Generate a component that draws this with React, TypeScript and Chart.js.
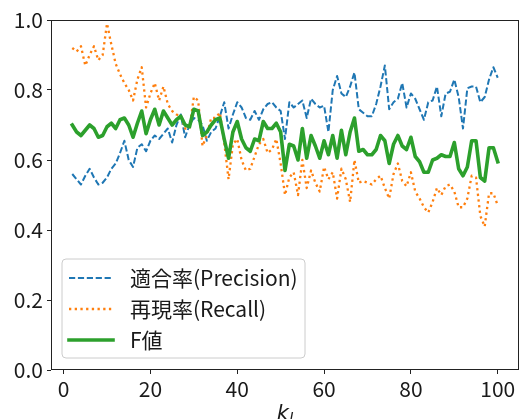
import React, { useEffect, useRef } from "react";
import { Chart, registerables } from "chart.js";

Chart.register(...registerables);

const K = [
  2, 3, 4, 5, 6, 7, 8, 9, 10, 11,
  12, 13, 14, 15, 16, 17, 18, 19, 20, 21,
  22, 23, 24, 25, 26, 27, 28, 29, 30, 31,
  32, 33, 34, 35, 36, 37, 38, 39, 40, 41,
  42, 43, 44, 45, 46, 47, 48, 49, 50, 51,
  52, 53, 54, 55, 56, 57, 58, 59, 60, 61,
  62, 63, 64, 65, 66, 67, 68, 69, 70, 71,
  72, 73, 74, 75, 76, 77, 78, 79, 80, 81,
  82, 83, 84, 85, 86, 87, 88, 89, 90, 91,
  92, 93, 94, 95, 96, 97, 98, 99, 100,
];

const PRECISION = [
  0.56, 0.545, 0.53, 0.555, 0.575, 0.55, 0.53, 0.535, 0.55, 0.575,
  0.59, 0.62, 0.655, 0.6, 0.58, 0.635, 0.645, 0.625, 0.655, 0.67,
  0.66, 0.675, 0.69, 0.65, 0.7, 0.73, 0.665, 0.7, 0.72, 0.715,
  0.7, 0.655, 0.68, 0.69, 0.725, 0.765, 0.69, 0.73, 0.765, 0.75,
  0.72, 0.715, 0.74, 0.715, 0.745, 0.76, 0.765, 0.75, 0.74, 0.66,
  0.765, 0.75, 0.76, 0.77, 0.72, 0.775, 0.76, 0.75, 0.755, 0.68,
  0.8, 0.84, 0.79, 0.78, 0.81, 0.85, 0.745, 0.735, 0.725, 0.725,
  0.76, 0.81, 0.87, 0.745, 0.765, 0.775, 0.82, 0.75, 0.79, 0.775,
  0.745, 0.715, 0.765, 0.77, 0.81, 0.725, 0.79, 0.795, 0.83, 0.78,
  0.69, 0.805, 0.81, 0.81, 0.765, 0.78, 0.83, 0.865, 0.835,
];

const RECALL = [
  0.92, 0.91, 0.925, 0.87, 0.9, 0.925, 0.885, 0.9, 0.99, 0.93,
  0.875, 0.845, 0.82, 0.8, 0.77, 0.83, 0.865, 0.75, 0.79, 0.82,
  0.77, 0.81, 0.76, 0.74, 0.73, 0.725, 0.69, 0.69, 0.78, 0.77,
  0.64, 0.67, 0.72, 0.72, 0.735, 0.65, 0.545, 0.645, 0.66, 0.6,
  0.57, 0.575, 0.61, 0.645, 0.66, 0.62, 0.63, 0.66, 0.59, 0.5,
  0.55, 0.565, 0.5, 0.6, 0.52, 0.57, 0.535, 0.51, 0.58, 0.545,
  0.565, 0.49, 0.575, 0.545, 0.48, 0.6, 0.535, 0.54, 0.535, 0.53,
  0.545, 0.555, 0.52, 0.49, 0.56, 0.59, 0.54, 0.525, 0.565, 0.51,
  0.49, 0.465, 0.45, 0.48, 0.52, 0.5, 0.525, 0.53, 0.51, 0.465,
  0.465, 0.49, 0.555, 0.55, 0.44, 0.41, 0.505, 0.505, 0.47,
];

const F_VALUE = [
  0.7, 0.68, 0.67, 0.685, 0.7, 0.69, 0.665, 0.67, 0.695, 0.705,
  0.69, 0.715, 0.72, 0.7, 0.665, 0.705, 0.74, 0.675, 0.715, 0.745,
  0.7, 0.74, 0.72, 0.7, 0.715, 0.725, 0.7, 0.695, 0.745, 0.74,
  0.67, 0.68, 0.7, 0.715, 0.72, 0.66, 0.605, 0.68, 0.71, 0.66,
  0.635, 0.625, 0.66, 0.655, 0.71, 0.69, 0.69, 0.705, 0.68, 0.57,
  0.645, 0.64, 0.6, 0.69, 0.605, 0.67, 0.64, 0.605, 0.655, 0.615,
  0.67, 0.605, 0.685, 0.615, 0.68, 0.72, 0.625, 0.63, 0.615, 0.615,
  0.63, 0.67, 0.655, 0.59, 0.645, 0.67, 0.64, 0.63, 0.665, 0.61,
  0.595, 0.565, 0.565, 0.6, 0.605, 0.615, 0.61, 0.61, 0.65, 0.575,
  0.555, 0.58, 0.655, 0.655, 0.55, 0.54, 0.635, 0.635, 0.595,
];

const SERIES_LABELS = ["適合率(Precision)", "再現率(Recall)", "F値"];
const X_TICKS = [0, 20, 40, 60, 80, 100];
const Y_TICKS = [0, 0.2, 0.4, 0.6, 0.8, 1.0];
const X_TITLE = "k";
const X_TITLE_SUB = "l";

const FONT = "'Noto Sans CJK JP', 'Noto Sans', sans-serif";
const TEXT_COLOR = "#1a1a1a";

const overlayPlugin = {
  id: "overlay",
  afterDatasetsDraw(chart: any) {
    const { ctx, chartArea: a } = chart;
    ctx.save();
    // frame
    ctx.strokeStyle = "#222";
    ctx.lineWidth = 1;
    const l = Math.round(a.left) + 0.5;
    const t = Math.round(a.top) + 0.5;
    const r = Math.round(a.right) - 0.5;
    const b = Math.round(a.bottom) - 0.5;
    ctx.strokeRect(l, t, r - l, b - t);

    // legend
    const bx = a.left + 11;
    const bw = 243;
    const bh = 99;
    const by = a.bottom - 12 - bh;
    const rad = 4;
    ctx.beginPath();
    ctx.moveTo(bx + rad, by);
    ctx.arcTo(bx + bw, by, bx + bw, by + bh, rad);
    ctx.arcTo(bx + bw, by + bh, bx, by + bh, rad);
    ctx.arcTo(bx, by + bh, bx, by, rad);
    ctx.arcTo(bx, by, bx + bw, by, rad);
    ctx.closePath();
    ctx.fillStyle = "rgba(255,255,255,0.8)";
    ctx.fill();
    ctx.strokeStyle = "#cccccc";
    ctx.lineWidth = 1;
    ctx.stroke();

    const rows = [19, 50, 81];
    chart.data.datasets.forEach((ds: any, i: number) => {
      const y = by + rows[i];
      ctx.save();
      ctx.strokeStyle = ds.borderColor;
      ctx.lineWidth = ds.borderWidth;
      ctx.setLineDash(ds.borderDash || []);
      ctx.lineCap = ds.borderCapStyle || "butt";
      ctx.beginPath();
      ctx.moveTo(bx + 7, y);
      ctx.lineTo(bx + 51, y);
      ctx.stroke();
      ctx.restore();
      ctx.fillStyle = TEXT_COLOR;
      ctx.font = `21px ${FONT}`;
      ctx.textBaseline = "middle";
      ctx.textAlign = "left";
      ctx.fillText(ds.label, bx + 68, y);
    });

    // x-axis title (italic k with subscript l)
    const cx = (a.left + a.right) / 2;
    ctx.fillStyle = TEXT_COLOR;
    ctx.textBaseline = "alphabetic";
    ctx.font = `italic 21px 'DejaVu Sans', sans-serif`;
    const kw = ctx.measureText(X_TITLE).width;
    ctx.font = `italic 15px 'DejaVu Sans', sans-serif`;
    const lw = ctx.measureText(X_TITLE_SUB).width;
    const start = cx - (kw + lw) / 2;
    ctx.font = `italic 21px 'DejaVu Sans', sans-serif`;
    ctx.textAlign = "left";
    ctx.fillText(X_TITLE, start, a.bottom + 50);
    ctx.font = `italic 15px 'DejaVu Sans', sans-serif`;
    ctx.fillText(X_TITLE_SUB, start + kw, a.bottom + 54);
    ctx.restore();
  },
};

export default function App() {
  const ref = useRef<HTMLCanvasElement | null>(null);

  useEffect(() => {
    if (!ref.current) return;
    const mk = (vals: number[]) => K.map((k, i) => ({ x: k, y: vals[i] }));
    const chart = new Chart(ref.current, {
      type: "line",
      data: {
        datasets: [
          {
            label: SERIES_LABELS[0],
            data: mk(PRECISION),
            borderColor: "#1f77b4",
            borderWidth: 2,
            borderDash: [6.2, 2.7],
            borderCapStyle: "butt",
            borderJoinStyle: "round",
            pointRadius: 0,
            tension: 0,
            order: 2,
          },
          {
            label: SERIES_LABELS[1],
            data: mk(RECALL),
            borderColor: "#ff7f0e",
            borderWidth: 2.3,
            borderDash: [2.3, 3.4],
            borderCapStyle: "butt",
            borderJoinStyle: "round",
            pointRadius: 0,
            tension: 0,
            order: 1,
          },
          {
            label: SERIES_LABELS[2],
            data: mk(F_VALUE),
            borderColor: "#2ca02c",
            borderWidth: 3.6,
            borderCapStyle: "square",
            borderJoinStyle: "round",
            pointRadius: 0,
            tension: 0,
            order: 0,
          },
        ],
      },
      options: {
        responsive: false,
        animation: false,
        devicePixelRatio: 1,
        layout: { padding: { top: 20, right: 1, left: 0, bottom: 0 } },
        plugins: {
          legend: { display: false },
          tooltip: { enabled: false },
          title: { display: false },
        },
        scales: {
          x: {
            type: "linear",
            min: -2.9,
            max: 104.9,
            afterBuildTicks: (s: any) => {
              s.ticks = X_TICKS.map((v) => ({ value: v }));
            },
            afterFit: (s: any) => {
              s.height = 49;
            },
            grid: {
              drawOnChartArea: false,
              drawTicks: true,
              tickLength: 4,
              tickColor: "#222",
              tickWidth: 1,
            },
            border: { display: false },
            ticks: {
              color: TEXT_COLOR,
              font: { family: FONT, size: 21 },
              padding: 2,
              maxRotation: 0,
              callback: (v: any) => String(v),
            },
          },
          y: {
            type: "linear",
            min: 0,
            max: 1,
            afterBuildTicks: (s: any) => {
              s.ticks = Y_TICKS.map((v) => ({ value: v }));
            },
            afterFit: (s: any) => {
              s.width = 51;
            },
            grid: {
              drawOnChartArea: false,
              drawTicks: true,
              tickLength: 4,
              tickColor: "#222",
              tickWidth: 1,
            },
            border: { display: false },
            ticks: {
              color: TEXT_COLOR,
              font: { family: FONT, size: 21 },
              padding: 4,
              callback: (v: any) => Number(v).toFixed(1),
            },
          },
        },
      },
      plugins: [overlayPlugin],
    });
    return () => chart.destroy();
  }, []);

  return (
    <div
      style={{
        position: "fixed",
        left: 0,
        top: 0,
        width: 520,
        height: 419,
        background: "#fff",
        overflow: "hidden",
      }}
    >
      <canvas ref={ref} width={520} height={419} style={{ display: "block" }} />
    </div>
  );
}
